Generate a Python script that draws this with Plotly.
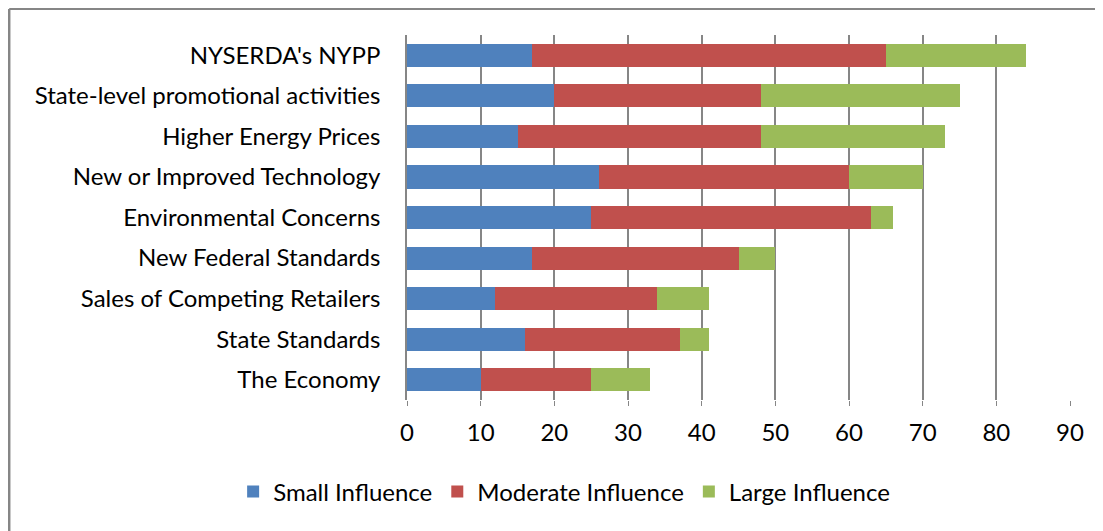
import plotly.graph_objects as go

categories = ["The Economy", "State Standards", "Sales of Competing Retailers",
              "New Federal Standards", "Environmental Concerns",
              "New or Improved Technology", "Higher Energy Prices",
              "State-level promotional activities", "NYSERDA's NYPP"]
small = [10, 16, 12, 17, 25, 26, 15, 20, 17]
moderate = [15, 21, 22, 28, 38, 34, 33, 28, 48]
large = [8, 4, 7, 5, 3, 10, 25, 27, 19]
x_ticks = [0, 10, 20, 30, 40, 50, 60, 70, 80, 90]

fig = go.Figure()
for name, vals, col in [("Small Influence", small, "#4F81BD"),
                        ("Moderate Influence", moderate, "#C0504D"),
                        ("Large Influence", large, "#9BBB59")]:
    fig.add_trace(go.Bar(y=categories, x=vals, name=name, orientation="h",
                         marker=dict(color=col, line=dict(width=0))))

# plot area ~ 399..1062 x 27..392 in figure coords (page adds 8px body margin)
fig.update_layout(
    barmode="stack",
    bargap=0.43,
    width=1103, height=531,
    margin=dict(l=399, r=41, t=27, b=139),
    paper_bgcolor="white", plot_bgcolor="white",
    font=dict(family="Lato", size=24, color="#000000"),
    legend=dict(orientation="h", x=0.237, xanchor="center", y=-0.252, yanchor="middle",
                font=dict(size=24), traceorder="normal", itemwidth=30),
    shapes=[
        dict(type="line", xref="paper", yref="paper", x0=-0.600, x1=-0.600, y0=-0.4, y1=1.071,
             line=dict(color="#868686", width=2.5)),
        dict(type="line", xref="paper", yref="paper", x0=-0.600, x1=1.045, y0=1.071, y1=1.071,
             line=dict(color="#868686", width=2)),
    ],
)
fig.update_xaxes(range=[0, 90], tickvals=x_ticks, showgrid=True, gridcolor="#868686", gridwidth=1.5,
                 zeroline=False, showline=False, ticks="outside", ticklen=5, tickcolor="#868686",
                 ticklabelstandoff=6, automargin=False)
fig.update_yaxes(showline=True, linecolor="#868686", linewidth=1.5, ticks="", ticklabelstandoff=20,
                 showgrid=False, automargin=False)

fig.write_html("out.html")
